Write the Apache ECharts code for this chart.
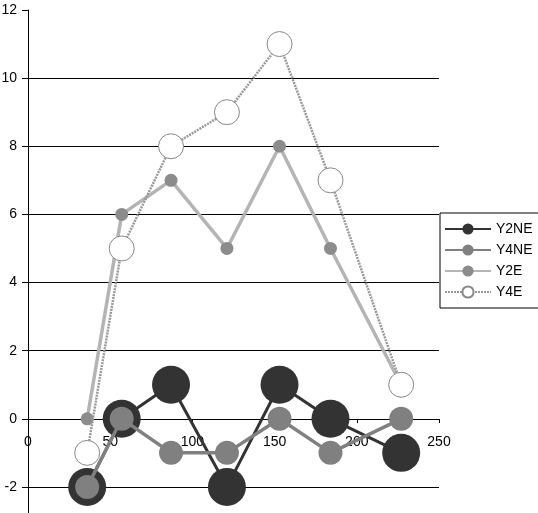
<!DOCTYPE html>
<html>
<head>
<meta charset="utf-8">
<script src="https://cdn.jsdelivr.net/npm/echarts@6/dist/echarts.min.js"></script>
<style>
  html, body { margin: 0; padding: 0; background: #fff; }
  #chart { width: 538px; height: 513px; }
</style>
</head>
<body>
<div id="chart"></div>
<script>
// x positions shared by every series
const xValues = [36, 57, 87, 121, 153, 184, 227];
const y2ne = [-2, 0, 1, -2, 1, 0, -1];
const y4ne = [-2, 0, -1, -1, 0, -1, 0];
const y2e = [0, 6, 7, 5, 8, 5, 1];
const y4e = [-1, 5, 8, 9, 11, 7, 1];
const seriesNames = ['Y2NE', 'Y4NE', 'Y2E', 'Y4E'];

const pairs = (ys) => ys.map((y, i) => [xValues[i], y]);

const font = 'Liberation Sans, Arial, sans-serif';
const chart = echarts.init(document.getElementById('chart'));

chart.setOption({
  animation: false,
  backgroundColor: '#fff',
  grid: { left: 28, right: 99, top: 10, bottom: -8, outerBoundsMode: 'none', containLabel: false },
  legend: {
    data: seriesNames,
    orient: 'vertical',
    left: 440,
    top: 213,
    itemWidth: 46,
    itemHeight: 14,
    itemGap: 7,
    padding: [9, 6, 9, 4],
    borderColor: '#000',
    borderWidth: 1,
    backgroundColor: '#fff',
    textStyle: { fontFamily: font, fontSize: 14, color: '#000' }
  },
  xAxis: {
    type: 'value',
    min: 0,
    max: 250,
    interval: 50,
    position: 'bottom',
    offset: -102,   // sits on y = 0 (three units above the grid's bottom edge)
    z: 0,
    axisLine: { onZero: false, lineStyle: { color: '#000', width: 1 } },
    axisTick: { show: true, length: 4, lineStyle: { color: '#000' } },
    axisLabel: { margin: 16, fontFamily: font, fontSize: 14, color: '#000' },
    splitLine: { show: false }
  },
  yAxis: {
    type: 'value',
    min: -3,
    max: 12,
    minInterval: 2,
    maxInterval: 2,
    axisLine: { show: true, onZero: false, lineStyle: { color: '#000', width: 1 } },
    axisTick: { show: true, length: 6, lineStyle: { color: '#000' } },
    axisLabel: { margin: 11, fontFamily: font, fontSize: 14, color: '#000', showMinLabel: false },
    splitLine: { show: true, showMaxLine: false, lineStyle: { color: '#000', width: 1 } }
  },
  series: [
    {
      name: 'Y2NE',
      type: 'line',
      data: pairs(y2ne),
      symbol: 'circle',
      symbolSize: 38,
      z: 2,
      lineStyle: { color: '#333', width: 3 },
      itemStyle: { color: '#333' }
    },
    {
      name: 'Y4NE',
      type: 'line',
      data: pairs(y4ne),
      symbol: 'circle',
      symbolSize: 24,
      z: 3,
      lineStyle: { color: '#808080', width: 3.5 },
      itemStyle: { color: '#808080' }
    },
    {
      name: 'Y2E',
      type: 'line',
      data: pairs(y2e),
      symbol: 'circle',
      symbolSize: 13,
      z: 4,
      lineStyle: { color: '#b4b4b4', width: 3.5 },
      itemStyle: { color: '#8c8c8c' }
    },
    {
      name: 'Y4E',
      type: 'line',
      data: pairs(y4e),
      symbol: 'circle',
      symbolSize: 25,
      z: 5,
      lineStyle: { color: '#999', width: 2.5, type: [2, 1] },
      itemStyle: { color: '#fff', borderColor: '#888', borderWidth: 1 }
    }
  ]
});
</script>
</body>
</html>
